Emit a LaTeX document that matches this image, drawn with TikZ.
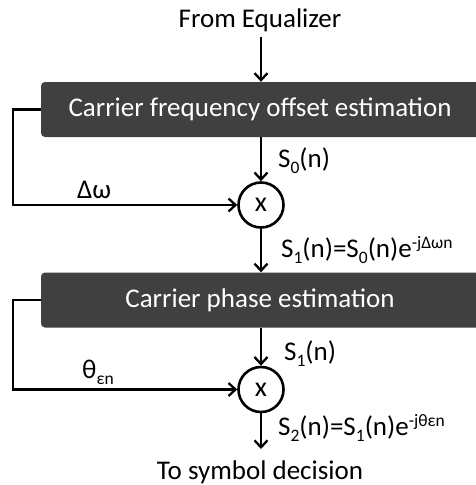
\documentclass[tikz,border=0pt]{standalone}
\usepackage{fontspec}
\setmainfont{Carlito}
\usetikzlibrary{arrows.meta}
\definecolor{boxgray}{HTML}{404040}
% lowered and raised indices in the style of an office text box
\newcommand\lowidx[1]{\raisebox{-0.24em}{\fontsize{17.5}{20}\selectfont #1}}
\newcommand\highidx[1]{\raisebox{0.32em}{\fontsize{17.5}{20}\selectfont #1}}
\tikzset{
  wire/.style={line width=2.6pt, draw=black},
  arr/.style={wire, -{Straight Barb[length=7pt,width=13pt,line width=2.3pt]}},
  estbox/.style={rectangle, rounded corners=4pt, fill=boxgray, text=white,
    minimum width=441pt, minimum height=55pt, inner sep=0pt, font=\fontsize{27}{32}\selectfont},
  mixer/.style={circle, draw=black, line width=2.6pt, minimum size=45pt, inner sep=0pt,
    font=\fontsize{28}{32}\selectfont},
  lbl/.style={inner sep=0pt, font=\fontsize{27}{32}\selectfont},
}
\begin{document}
\begin{tikzpicture}[x=1pt,y=-1pt]
  \useasboundingbox (0,0) rectangle (475,485);

  % input / output texts
  \node[lbl, anchor=base] (src) at (260,27) {From Equalizer};
  \node[lbl, anchor=base] (dst) at (260,479) {To symbol decision};

  % estimator blocks
  \node[estbox] (cfo) at (261.5,109.5) {\hspace*{-3pt}Carrier frequency offset estimation};
  \node[estbox] (cpe) at (261.5,300) {\hspace*{-3pt}Carrier phase estimation};

  % multipliers
  \node[mixer] (m1) at (261,205) {x};
  \node[mixer] (m2) at (261,389.5) {x};

  % feed-forward path
  \coordinate (inTop) at (261,37);
  \coordinate (outEnd) at (261,449);
  \draw[arr] (inTop) -- (cfo.north -| inTop);
  \draw[arr] (cfo.south -| m1) -- (m1.north);
  \draw[arr] (m1.south) -- (cpe.north -| m1);
  \draw[arr] (cpe.south -| m2) -- (m2.north);
  \draw[arr] (m2.south) -- (outEnd);

  % estimate feedback to the multipliers
  \draw[arr] (cfo.west) -- ++(-28,0) |- (m1.west);
  \draw[arr] (cpe.west) -- ++(-28,0) |- (m2.west);

  % signal labels
  \node[lbl, anchor=base west] (s0) at (278,167.5) {S\lowidx{0}(n)};
  \node[lbl, anchor=base west] (s1) at (281,257) {S\lowidx{1}(n)=S\lowidx{0}(n)e\highidx{-jΔωn}};
  \node[lbl, anchor=base west] (s1b) at (284,360) {S\lowidx{1}(n)};
  \node[lbl, anchor=base west] (s2) at (278,435) {S\lowidx{2}(n)=S\lowidx{1}(n)e\highidx{-jθεn}};
  \node[lbl, anchor=base west] (dw) at (77,198) {Δω};
  \node[lbl, anchor=base west] (th) at (82,378) {θ\lowidx{εn}};
\end{tikzpicture}
\end{document}
